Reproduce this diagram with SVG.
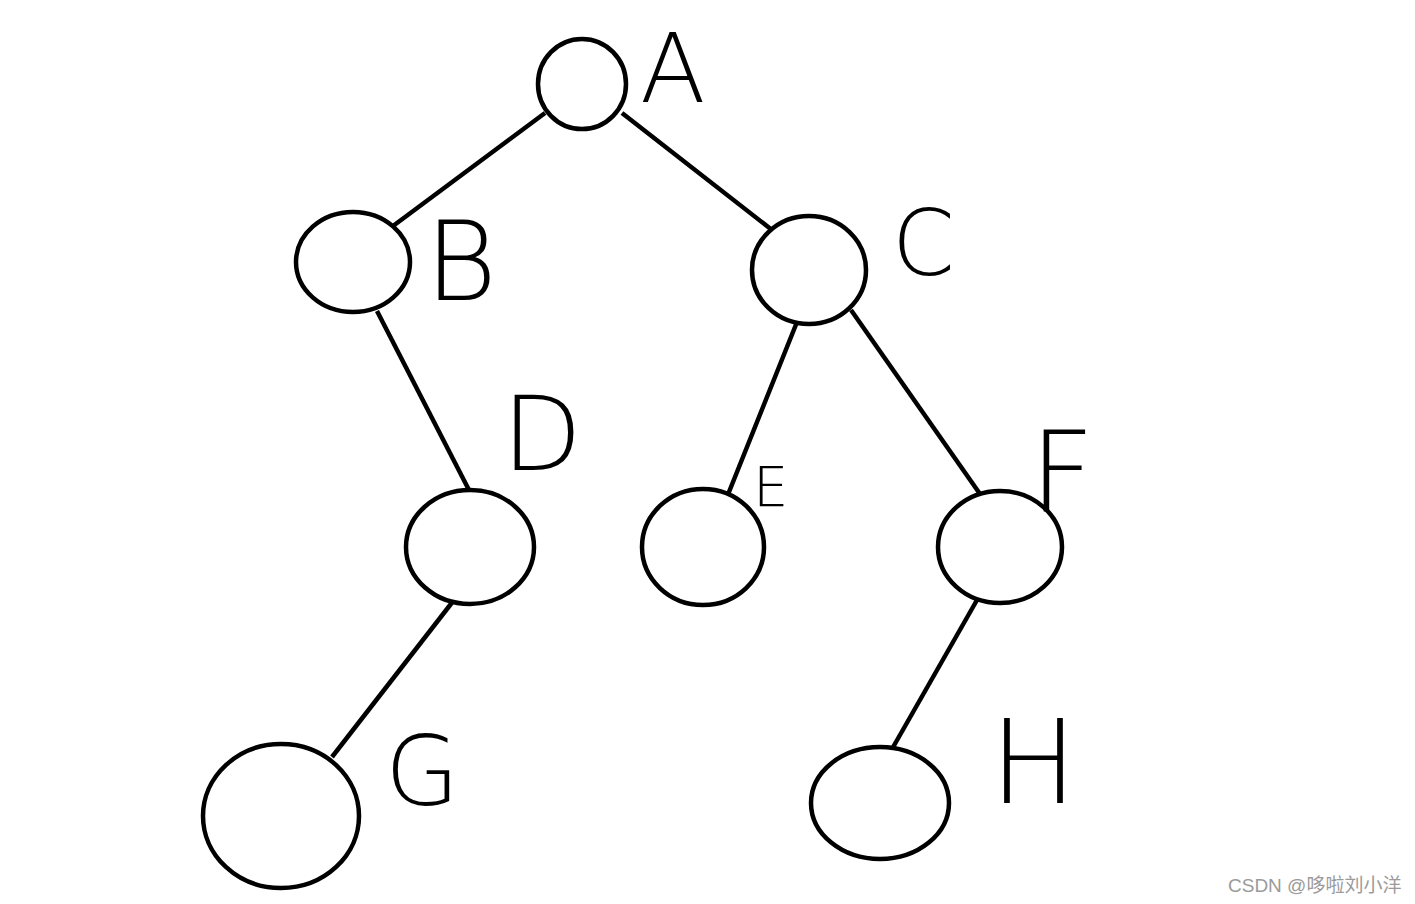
<svg xmlns="http://www.w3.org/2000/svg" width="1415" height="904" viewBox="0 0 1415 904">
<style>
.n{fill:#fff;stroke:#000;stroke-width:4.5}
.e{stroke:#000;stroke-width:4.5;fill:none}
.l{font-family:"DejaVu Sans","Liberation Sans",sans-serif;font-weight:200;fill:#000}
.w{font-family:"Liberation Sans","Noto Sans CJK SC",sans-serif;font-size:19px;fill:#9a9a9a}
</style>
<rect width="1415" height="904" fill="#fff"/>
<g id="edges">
<line class="e" x1="545" y1="113" x2="393" y2="226"/>
<line class="e" x1="622" y1="113" x2="772" y2="230"/>
<line class="e" x1="377" y1="311" x2="470" y2="492"/>
<line class="e" x1="797" y1="322" x2="725" y2="502"/>
<line class="e" x1="851" y1="310" x2="980" y2="494"/>
<line class="e" x1="454" y1="600" x2="332" y2="757"/>
<line class="e" x1="977" y1="600" x2="892" y2="749"/>
</g>
<g id="A"><ellipse class="n" cx="582" cy="84" rx="44" ry="45"/><text class="l" x="640" y="102" font-size="96" textLength="62">A</text></g>
<g id="B"><ellipse class="n" cx="353" cy="262" rx="57" ry="50"/><text class="l" x="425" y="300" font-size="110" textLength="62">B</text></g>
<g id="C"><ellipse class="n" cx="809" cy="270" rx="57" ry="54"/><text class="l" x="892" y="275" font-size="90" textLength="58">C</text></g>
<g id="D"><ellipse class="n" cx="470" cy="547" rx="64" ry="57"/><text class="l" x="502" y="470" font-size="104" textLength="55">D</text></g>
<g id="E"><ellipse class="n" cx="703" cy="547" rx="61" ry="58"/><text class="l" x="753" y="506" font-size="56" textLength="44">E</text></g>
<g id="F"><ellipse class="n" cx="1000" cy="547" rx="62" ry="56"/><text class="l" x="1030" y="512" font-size="112" textLength="44">F</text></g>
<g id="G"><ellipse class="n" cx="281" cy="816" rx="78" ry="72"/><text class="l" x="385" y="805" font-size="96" textLength="84">G</text></g>
<g id="H"><ellipse class="n" cx="880" cy="803" rx="69" ry="56"/><text class="l" x="990" y="803" font-size="116" textLength="55">H</text></g>
<text class="w" x="1228" y="892">CSDN @哆啦刘小洋</text>
</svg>
